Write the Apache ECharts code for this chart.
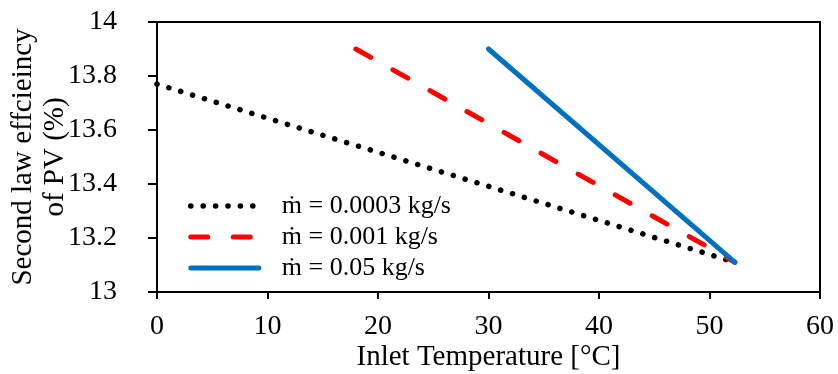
<!DOCTYPE html>
<html><head><meta charset="utf-8">
<script src="https://cdn.jsdelivr.net/npm/echarts@6/dist/echarts.min.js"></script>
<style>html,body{margin:0;padding:0;background:#fff}#c{width:838px;height:374px}</style>
</head><body><div id="c"></div>
<script>
const seriesNames = ['ṁ = 0.0003 kg/s', 'ṁ = 0.001 kg/s', 'ṁ = 0.05 kg/s'];
const lowFlowT = [0, 52.3];
const lowFlowEff = [13.77, 13.11];
const midFlowT = [18, 52.3];
const midFlowEff = [13.90, 13.11];
const highFlowT = [30, 52.3];
const highFlowEff = [13.90, 13.11];
const xTicks = [0, 10, 20, 30, 40, 50, 60];
const yTicks = [13, 13.2, 13.4, 13.6, 13.8, 14];

const pairs = (xs, ys) => xs.map((x, i) => [x, ys[i]]);
const serif = '"Liberation Serif", "DejaVu Serif", serif';
const chart = echarts.init(document.getElementById('c'));
chart.setOption({
  animation: false,
  grid: { left: 157, right: 18, top: 22, bottom: 82, show: true, borderColor: '#000', borderWidth: 2,
    backgroundColor: 'transparent', containLabel: false, outerBoundsMode: 'none' },
  xAxis: {
    type: 'value', min: xTicks[0], max: xTicks[xTicks.length - 1], interval: 10,
    name: 'Inlet Temperature [°C]', nameLocation: 'middle', nameGap: 50, nameMoveOverlap: false,
    nameTextStyle: { fontFamily: serif, fontSize: 29, color: '#000', lineHeight: 30 },
    axisLine: { lineStyle: { color: '#000', width: 2 } },
    axisTick: { show: true, length: 7, lineStyle: { color: '#000', width: 2 } },
    axisLabel: { fontFamily: serif, fontSize: 28, color: '#000', margin: 21 },
    splitLine: { show: false }
  },
  yAxis: {
    type: 'value', min: yTicks[0], max: yTicks[yTicks.length - 1], interval: 0.2,
    name: 'Second law effcieincy\nof PV (%)', nameLocation: 'middle', nameGap: 86, nameRotate: 90,
    nameMoveOverlap: false,
    nameTextStyle: { fontFamily: serif, fontSize: 29, color: '#000', lineHeight: 32 },
    axisLine: { lineStyle: { color: '#000', width: 2 } },
    axisTick: { show: true, length: 9, lineStyle: { color: '#000', width: 2 } },
    axisLabel: { fontFamily: serif, fontSize: 28, color: '#000', margin: 40,
      formatter: v => (Math.round(v * 10) / 10).toString() },
    splitLine: { show: false }
  },
  legend: {
    orient: 'vertical', left: 188, top: 193, itemWidth: 68, itemHeight: 8, itemGap: 5,
    padding: 0, itemStyle: { opacity: 0 }, lineStyle: { width: 'inherit', type: 'inherit', cap: 'inherit' },
    textStyle: { fontFamily: serif, fontSize: 26, lineHeight: 26, color: '#000', padding: [0, 0, 0, 18] },
    data: seriesNames
  },
  series: [
    { name: seriesNames[0], type: 'line', data: pairs(lowFlowT, lowFlowEff), symbol: 'none',
      lineStyle: { color: '#000', width: 5.5, type: [0.1, 12.3], cap: 'round' }, itemStyle: { color: '#000' } },
    { name: seriesNames[1], type: 'line', data: pairs(midFlowT, midFlowEff), symbol: 'none',
      lineStyle: { color: '#ff0000', width: 5, type: [17, 25.5], cap: 'round' }, itemStyle: { color: '#ff0000' } },
    { name: seriesNames[2], type: 'line', data: pairs(highFlowT, highFlowEff), symbol: 'none',
      lineStyle: { color: '#0070c0', width: 5, cap: 'round' }, itemStyle: { color: '#0070c0' } }
  ]
});
</script></body></html>
